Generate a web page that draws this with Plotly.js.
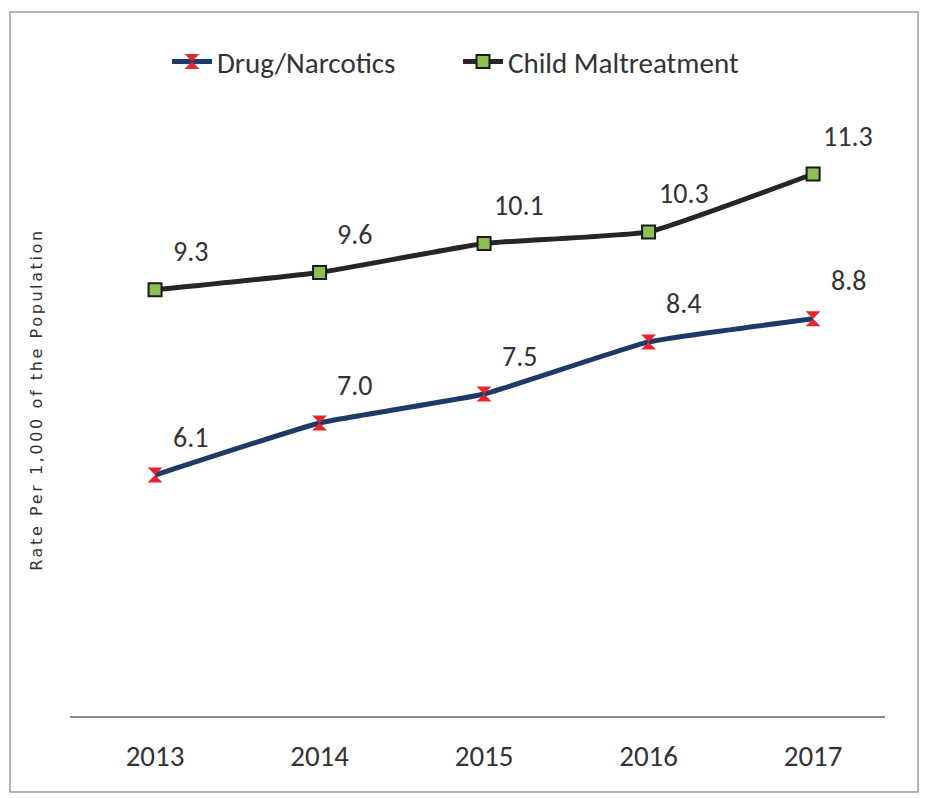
<!DOCTYPE html>
<html>
<head>
<meta charset="utf-8">
<script src="https://cdn.plot.ly/plotly-3.0.1.min.js"></script>
<style>
  html, body { margin: 0; padding: 0; background: #fff; }
  #chart { width: 927px; height: 798px; }
</style>
</head>
<body>
<div id="chart"></div>
<script>
const years = ["2013", "2014", "2015", "2016", "2017"];
const drugNarcotics = [6.1, 7.0, 7.5, 8.4, 8.8];
const childMaltreatment = [9.3, 9.6, 10.1, 10.3, 11.3];
const seriesNames = ["Drug/Narcotics", "Child Maltreatment"];
const yTitle = "Rate Per 1,000 of the Population";

const mainFont = "Liberation Sans Narrow, Carlito, Lato, sans-serif";
const labelFont = { family: mainFont, size: 28, color: "#333" };

const traces = [
  {
    x: years, y: drugNarcotics, name: seriesNames[0], type: "scatter", mode: "lines+markers",
    line: { color: "#1f3a66", width: 5, shape: "spline", smoothing: 0.35 },
    marker: { symbol: "hourglass", color: "#e8252b", size: 15, line: { width: 0 } }
  },
  {
    x: years, y: childMaltreatment, name: seriesNames[1], type: "scatter", mode: "lines+markers",
    line: { color: "#262626", width: 5, shape: "spline", smoothing: 0.35 },
    marker: { symbol: "square", color: "#8cc152", size: 13, line: { color: "#1a1a1a", width: 2 } }
  }
];

const annotations = [];
[drugNarcotics, childMaltreatment].forEach(series => {
  series.forEach((v, i) => {
    annotations.push({
      x: i, y: v, xref: "x", yref: "y", text: v.toFixed(1),
      showarrow: false, xshift: 35, yshift: 38, font: labelFont
    });
  });
});

annotations.push({
  xref: "paper", yref: "paper", x: -0.0405, y: 0.55,
  xanchor: "center", yanchor: "middle", textangle: -90, showarrow: false,
  text: '<span style="letter-spacing:2.6px">' + yTitle + '</span>',
  font: { family: "DejaVu Sans, Verdana, sans-serif", size: 16, color: "#333" }
});

const layout = {
  width: 927, height: 798,
  margin: { l: 70, r: 42, t: 141, b: 82 },
  paper_bgcolor: "#fff", plot_bgcolor: "#fff",
  showlegend: true,
  legend: {
    orientation: "h", x: 0.119, xanchor: "left", y: 1.138, yanchor: "middle",
    font: { family: mainFont, size: 29, color: "#333" },
    itemwidth: 40, entrywidth: 236
  },
  xaxis: {
    type: "category", range: [-0.517, 4.437],
    showline: true, linecolor: "#8a8a8a", linewidth: 1.5,
    showgrid: false, zeroline: false, ticks: "",
    tickfont: { family: mainFont, size: 29, color: "#333" },
    ticklabelstandoff: 14
  },
  yaxis: {
    range: [1.94, 11.87], showgrid: false, zeroline: false, showline: false,
    showticklabels: false, ticks: ""
  },
  annotations: annotations,
  shapes: [{
    type: "rect", xref: "paper", yref: "paper",
    x0: -0.0736, x1: 1.0405, y0: -0.132, y1: 1.2243,
    line: { color: "#9a9a9a", width: 1.5 }, fillcolor: "rgba(0,0,0,0)", layer: "below"
  }]
};

Plotly.newPlot("chart", traces, layout, { displayModeBar: false, staticPlot: true });
</script>
</body>
</html>
